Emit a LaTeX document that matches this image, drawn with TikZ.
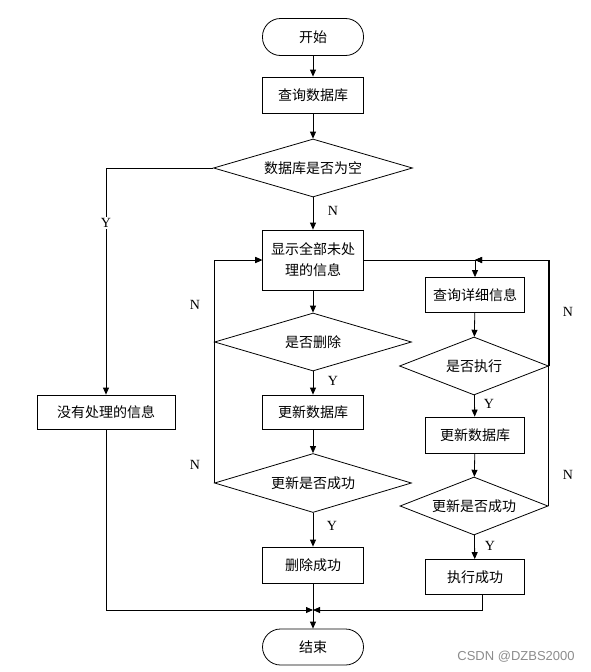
\documentclass[tikz,border=0pt]{standalone}
\usepackage{fontspec}
\setmainfont{Liberation Serif}
\newfontfamily\cjk{Noto Sans CJK SC}
\newfontfamily\wmfont{Liberation Sans}
\usetikzlibrary{shapes.geometric,arrows.meta}
\begin{document}
\begin{tikzpicture}[x=1pt,y=-1pt,
  every node/.style={font=\cjk\fontsize{14}{21}\selectfont},
  box/.style={draw, rectangle, inner sep=0pt, line width=0.8pt},
  term/.style={box, rounded corners=18pt},
  dia/.style={draw, diamond, inner sep=0pt, line width=0.8pt},
  arr/.style={draw, line width=0.8pt, -{Triangle[length=7pt,width=6pt]}},
  lbl/.style={font=\fontsize{14}{16}\selectfont, inner sep=1pt}]
\useasboundingbox (0,0) rectangle (590,672);

% nodes
\node[term, minimum width=101pt, minimum height=37pt] (start) at (313,37) {开始};
\node[box, minimum width=101pt, minimum height=36pt] (q1) at (313,95) {查询数据库};
\node[dia, minimum width=199pt, minimum height=58pt, shape aspect=3.4] (d1) at (313,168) {数据库是否为空};
\node[box, minimum width=101pt, minimum height=60pt, align=center] (show) at (313,260) {显示全部未处\\理的信息};
\node[dia, minimum width=197pt, minimum height=58pt, shape aspect=3.4] (d2) at (313,342) {是否删除};
\node[box, minimum width=101pt, minimum height=34pt] (u1) at (313,412) {更新数据库};
\node[dia, minimum width=197pt, minimum height=59pt, shape aspect=3.4] (ok1) at (313,483) {更新是否成功};
\node[box, minimum width=101pt, minimum height=36pt] (delok) at (313,565) {删除成功};
\node[term, minimum width=101pt, minimum height=36pt] (end) at (313,647) {结束};
\node[box, minimum width=138pt, minimum height=34pt] (nodb) at (106,412) {没有处理的信息};
\node[box, minimum width=99pt, minimum height=35pt] (q2) at (475,295) {查询详细信息};
\node[dia, minimum width=149pt, minimum height=58pt, shape aspect=2.57] (d3) at (474,366) {是否执行};
\node[box, minimum width=99pt, minimum height=36pt] (u2) at (475,435) {更新数据库};
\node[dia, minimum width=148pt, minimum height=58pt, shape aspect=2.57] (ok2) at (474,506) {更新是否成功};
\node[box, minimum width=99pt, minimum height=35pt] (exok) at (475,577) {执行成功};

\coordinate (m) at (313,610);
\coordinate (j) at (q2.north |- show.east);

% connectors
\draw[arr] (start) -- (q1);
\draw[arr] (q1) -- (d1);
\draw[arr] (d1) -- (show);
\draw[arr] (d1.west) -| (nodb.north);
\draw[arr] (show) -- (d2);
\draw[arr] (d2) -- (u1);
\draw[arr] (u1) -- (ok1);
\draw[arr] (ok1) -- (delok);
\draw[arr] (delok) -- (end);
\draw[arr] (ok1.west) |- (show.west);
\draw[arr] (d2.west) |- (show.west);
\draw[arr] (nodb.south) |- (m);
\draw[arr] (show.east) -| (q2.north);
\draw[arr] (q2) -- (d3);
\draw[arr] (d3) -- (u2);
\draw[arr] (u2) -- (ok2);
\draw[arr] (ok2) -- (exok);
\draw[arr] (d3.east) |- (j);
\draw[arr] (ok2.east) |- (j);
\draw[arr] ([xshift=7pt]exok.south) |- (m);

% labels
\node[lbl] (n1) at (333,211) {N};
\node[lbl, fill=white] (y1) at (106,223) {Y};
\node[lbl] (n2) at (195,305) {N};
\node[lbl] (n3) at (195,465) {N};
\node[lbl] (y2) at (333,381) {Y};
\node[lbl] (y3) at (332,526) {Y};
\node[lbl] (y4) at (489,404) {Y};
\node[lbl] (y5) at (490,546) {Y};
\node[lbl] (n4) at (568,312) {N};
\node[lbl] (n5) at (568,475) {N};

\node[font=\wmfont\fontsize{13}{15}\selectfont, text=black!45] (wm) at (516,657) {CSDN @DZBS2000};
\end{tikzpicture}
\end{document}
